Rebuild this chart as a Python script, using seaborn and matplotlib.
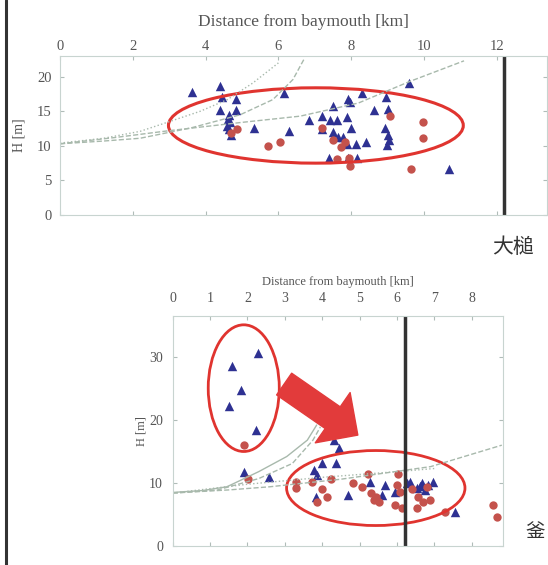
import matplotlib
matplotlib.use("Agg")
import matplotlib.pyplot as plt
import seaborn as sns
from matplotlib.patches import Ellipse
from matplotlib.lines import Line2D

sns.set_style("white")
plt.rcParams['font.family'] = ['Liberation Serif', 'DejaVu Serif']

# ---- top panel (大槌) ----
top_tri_x = [3.62, 4.40, 4.44, 4.84, 4.40, 4.84, 4.65, 4.62, 4.68, 4.60, 4.65, 4.70, 5.33, 6.16, 6.30,
             6.85, 7.19, 7.21, 7.49, 7.42, 7.60, 7.90, 7.97, 7.88, 7.99, 8.29, 8.63, 8.96, 9.02, 8.93,
             9.00, 9.05, 8.98, 9.60, 10.69, 8.13, 8.40, 7.39, 7.92, 8.15, 7.50, 7.64, 7.78, 7.88]
top_tri_y = [17.8, 18.6, 17.1, 16.8, 15.2, 15.2, 14.5, 13.9, 13.5, 12.9, 12.4, 11.6, 12.6, 17.6, 12.1,
             13.8, 14.3, 12.4, 15.7, 13.8, 13.8, 16.8, 16.3, 14.2, 12.6, 17.6, 15.2, 17.1, 15.3, 12.6,
             11.6, 10.9, 10.1, 19.1, 6.7, 10.3, 10.5, 8.2, 8.2, 8.3, 12.0, 11.3, 11.3, 10.3]
top_dot_x = [4.85, 4.70, 5.72, 6.04, 7.19, 7.50, 7.72, 7.83, 7.62, 7.97, 9.07, 9.98, 9.98, 9.64, 7.95]
top_dot_y = [12.4, 11.8, 10.0, 10.5, 12.6, 10.8, 9.8, 10.6, 8.1, 7.1, 14.3, 13.5, 11.1, 6.6, 8.3]

# guide curves
top_curve_a_x = [0, 1.2, 2.2, 3.0, 3.85, 4.6, 5.3, 6.0]
top_curve_a_y = [10.4, 11.1, 12.1, 13.5, 15.0, 16.7, 19.1, 22.0]
top_curve_b_x = [0, 1.2, 2.2, 3.6, 4.95, 5.85, 6.4, 6.7]
top_curve_b_y = [10.3, 10.7, 11.1, 12.6, 14.5, 16.7, 19.6, 22.5]
top_curve_c_x = [0, 1.5, 3.0, 5.0, 6.6, 8.2, 9.6, 11.1]
top_curve_c_y = [10.3, 11.2, 12.2, 13.4, 14.3, 16.2, 19.3, 22.3]

# ---- bottom panel (釜石) ----
bot_tri_x = [1.58, 2.27, 1.83, 1.51, 2.23, 1.91, 2.58, 3.78, 3.85, 3.98, 3.82, 4.36, 4.32, 4.45,
             4.68, 5.28, 5.59, 5.68, 5.94, 6.26, 6.34, 6.52, 6.66, 6.75, 6.83, 6.95, 6.60, 7.55]
bot_tri_y = [28.5, 30.6, 24.7, 22.2, 18.4, 11.8, 11.0, 12.1, 11.3, 13.2, 7.8, 13.2, 16.8, 15.5,
             8.1, 10.2, 8.1, 9.7, 8.6, 10.0, 10.2, 9.2, 10.0, 8.9, 9.7, 10.2, 9.6, 5.4]
bot_dot_x = [1.91, 2.02, 3.31, 3.31, 3.72, 3.87, 4.00, 4.13, 4.23, 4.83, 5.05, 5.23, 5.30, 5.39, 5.52,
             5.44, 6.03, 5.99, 5.94, 6.12, 6.08, 6.57, 6.70, 6.52, 6.88, 7.28, 8.57, 8.66, 6.40, 6.80]
bot_dot_y = [16.0, 10.7, 10.2, 9.2, 10.2, 7.0, 9.0, 7.7, 10.6, 10.0, 9.4, 11.5, 8.4, 7.3, 7.0,
             7.8, 11.5, 9.7, 6.5, 6.0, 8.6, 7.8, 7.0, 6.0, 7.3, 5.4, 6.5, 4.6, 9.0, 9.3]

bot_curve_a_x = [0, 0.8, 1.45, 2.3, 3.05, 3.6, 3.85]
bot_curve_a_y = [8.5, 8.8, 9.4, 11.8, 14.2, 16.8, 19.2]
bot_curve_b_x = [0, 1.2, 2.3, 3.2, 3.75, 3.95]
bot_curve_b_y = [8.4, 8.9, 10.7, 13.1, 16.8, 18.9]
bot_curve_c_x = [0, 1.5, 2.6, 4.5, 6.9, 8.8]
bot_curve_c_y = [8.4, 8.9, 9.4, 10.6, 12.6, 16.0]
bot_curve_d_x = [0, 2.0, 4.0, 6.0, 7.0]
bot_curve_d_y = [8.4, 9.8, 10.9, 11.8, 12.3]

tri_color = '#2e3192'
dot_color = '#c4524c'
ring_color = '#e0342f'
curve_color = '#a8b9ac'
tick_color = '#555555'


def style_axes(ax, xticks, yticks, pad_x, pad_y, size):
    ax.set_xticks(xticks)
    ax.set_yticks(yticks)
    ax.tick_params(direction='in', top=True, bottom=True, left=True, right=True,
                   labeltop=True, labelbottom=False, length=3, color='#b0bcb8',
                   labelcolor=tick_color, labelsize=size)
    ax.tick_params(axis='x', pad=pad_x)
    ax.tick_params(axis='y', pad=pad_y)
    ax.xaxis.set_label_position('top')
    for s in ax.spines.values():
        s.set_color('#c8d4d0')
        s.set_linewidth(0.8)


fig = plt.figure(figsize=(5.48, 5.65), dpi=100)

# top panel
ax1 = fig.add_axes([60 / 548, 1 - 215 / 565, (547 - 60) / 548, (215 - 56) / 565])
for cx, cy, ls in [(top_curve_a_x, top_curve_a_y, ':'), (top_curve_b_x, top_curve_b_y, '--'),
                   (top_curve_c_x, top_curve_c_y, '--')]:
    sns.lineplot(x=cx, y=cy, ax=ax1, color=curve_color, lw=1.0, linestyle=ls, sort=False, estimator=None)
sns.scatterplot(x=top_tri_x, y=top_tri_y, ax=ax1, marker='^', color=tri_color, s=46, linewidth=0)
sns.scatterplot(x=top_dot_x, y=top_dot_y, ax=ax1, marker='o', color=dot_color, s=36, linewidth=0)
ax1.add_patch(Ellipse((7.03, 12.95), 8.1, 10.9, fill=False, ec=ring_color, lw=2.2))
ax1.axvline(12.2, color='#333333', lw=2.5)
ax1.set_xlim(0, 13.38)
ax1.set_ylim(0, 23)
style_axes(ax1, range(0, 13, 2), range(0, 21, 5), 2, 6, 10.5)
ax1.set_xlabel('Distance from baymouth [km]', fontsize=12.5, color=tick_color, labelpad=10)
ax1.set_ylabel('H [m]', fontsize=10, color=tick_color, labelpad=8)

# bottom panel
ax2 = fig.add_axes([172.7 / 548, 1 - 546 / 565, (503.3 - 172.7) / 548, (546 - 316) / 565])
for cx, cy, ls in [(bot_curve_a_x, bot_curve_a_y, '-'), (bot_curve_b_x, bot_curve_b_y, '--'),
                   (bot_curve_c_x, bot_curve_c_y, '--'), (bot_curve_d_x, bot_curve_d_y, ':')]:
    sns.lineplot(x=cx, y=cy, ax=ax2, color=curve_color, lw=1.0, linestyle=ls, sort=False, estimator=None)
sns.scatterplot(x=bot_tri_x, y=bot_tri_y, ax=ax2, marker='^', color=tri_color, s=46, linewidth=0)
sns.scatterplot(x=bot_dot_x, y=bot_dot_y, ax=ax2, marker='o', color=dot_color, s=36, linewidth=0)
ax2.add_patch(Ellipse((1.9, 25.05), 1.9, 20.1, fill=False, ec=ring_color, lw=2.0))
ax2.add_patch(Ellipse((5.43, 9.2), 4.77, 11.9, fill=False, ec=ring_color, lw=2.0))
ax2.annotate('', xy=(4.95, 17.6), xytext=(2.98, 25.7),
             arrowprops=dict(arrowstyle='simple,head_width=2.2,head_length=1.1,tail_width=0.95',
                             mutation_scale=20, color='#e23b3b', shrinkA=0, shrinkB=0))
ax2.axvline(6.21, color='#333333', lw=2.5)
ax2.set_xlim(0, 8.84)
ax2.set_ylim(0, 36.5)
style_axes(ax2, range(0, 9), range(0, 31, 10), 8, 7, 10)
ax2.set_xlabel('Distance from baymouth [km]', fontsize=9, color=tick_color, labelpad=5)
ax2.set_ylabel('H [m]', fontsize=9, color=tick_color, labelpad=1)

fig.text(513 / 548, 1 - 247 / 565, '大槌', fontsize=15, color='#333333', ha='center', va='center',
         family=['Noto Sans CJK JP', 'DejaVu Sans'])
fig.text(526 / 548, 1 - 532 / 565, '釜', fontsize=14, color='#333333', ha='left', va='center',
         family=['Noto Sans CJK JP', 'DejaVu Sans'])
fig.add_artist(Line2D([5.5 / 548, 5.5 / 548], [0, 1], color='#333333', lw=2.2))

fig.savefig('out.png', dpi=100)
